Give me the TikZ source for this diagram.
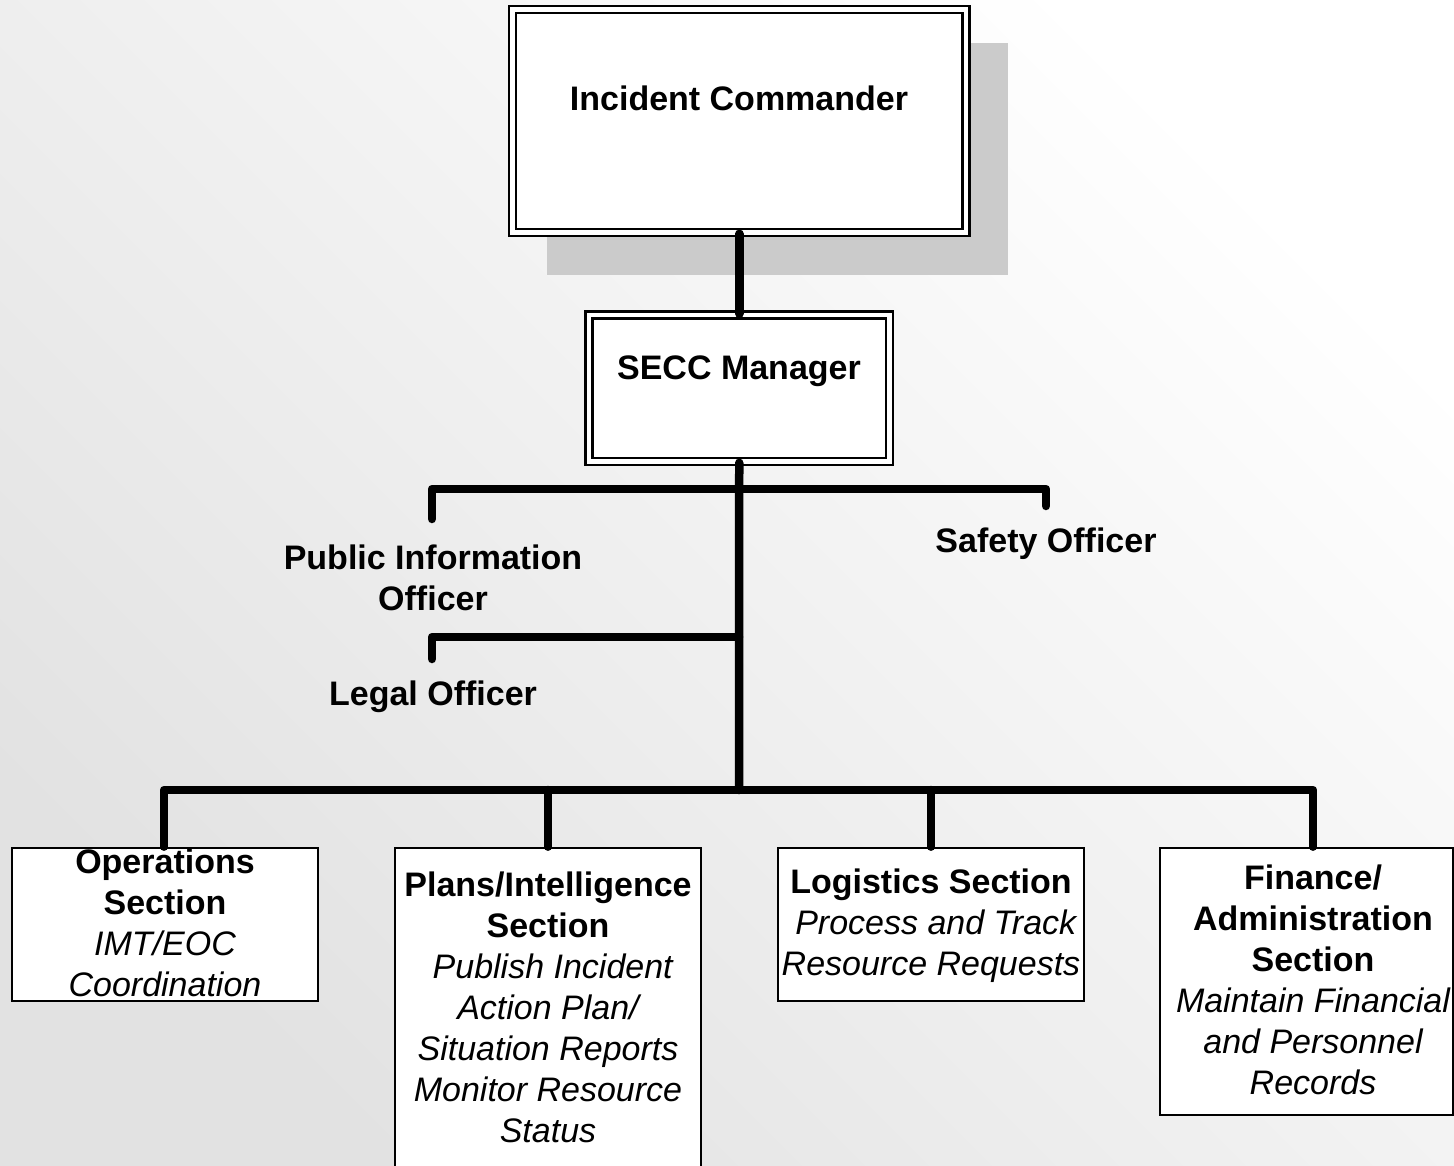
\documentclass[tikz,border=0pt]{standalone}
\usepackage{fontspec}
\setmainfont{Liberation Sans}
\definecolor{bgdark}{RGB}{226,226,226}
\definecolor{shadowgray}{RGB}{203,203,203}
\newcommand{\fstrut}{\rule{0pt}{30pt}}
\newcommand{\subl}[1]{{\mdseries\itshape #1}}
\begin{document}
\begin{tikzpicture}[x=1pt,y=-1pt,
  conn/.style={line width=8.5pt, line cap=round, line join=round},
  dbox/.style={draw, fill=white, line width=2.6pt, double=white, double distance=4.4pt, inner sep=0pt},
  sbox/.style={draw, fill=white, line width=2.6pt, inner sep=0pt},
  lbl/.style={font=\fontsize{34}{41}\selectfont\bfseries, align=center, inner sep=0pt, anchor=north},
]
\useasboundingbox (0,0) rectangle (1454,1166);
\shade[top color=white, bottom color=bgdark, shading angle=-45] (0,0) rectangle (1454,1166);

% shadow of the top box
\fill[shadowgray] (547,43) rectangle (1008,275);

% boxes
\node[dbox, minimum width=453.5pt, minimum height=223pt] (ic) at (739.25,121) {};
\node[dbox, minimum width=300.5pt, minimum height=146.5pt] (secc) at (739.25,388.25) {};
\node[sbox, minimum width=306pt, minimum height=153pt] (ops) at (165,924.5) {};
\node[sbox, minimum width=306pt, minimum height=337pt] (plans) at (548,1016.5) {};
\node[sbox, minimum width=306pt, minimum height=153pt] (logi) at (931,924.5) {};
\node[sbox, minimum width=293pt, minimum height=267pt] (fin) at (1306.5,981.5) {};

% junctions and free ends
\coordinate (j1) at (739,489);
\coordinate (pioEnd) at (432,519);
\coordinate (safEnd) at (1046,506);
\coordinate (j2) at (739,637);
\coordinate (legEnd) at (432,659);
\coordinate (bus) at (739,790);
\coordinate (b1) at (164,790);
\coordinate (b4) at (1313,790);

% connectors
\draw[conn] (ic.south) -- (secc.north);
\draw[conn] (secc.south) -- (bus);
\draw[conn] (pioEnd) -- (pioEnd |- j1) -- (safEnd |- j1) -- (safEnd);
\draw[conn] (legEnd) -- (legEnd |- j2) -- (j2);
\draw[conn] (b1 |- ops.north) -- (b1) -- (b4) -- (b4 |- fin.north);
\draw[conn] (plans.north) -- (plans.north |- bus);
\draw[conn] (logi.north) -- (logi.north |- bus);

% texts
\node[lbl] (icT) at (739,80) {\fstrut Incident Commander};
\node[lbl] (seccT) at (739,349) {\fstrut SECC Manager};
\node[lbl] (safT) at (1046,522) {\fstrut Safety Officer};
\node[lbl] (pioT) at (433,539) {\fstrut Public Information\\Officer};
\node[lbl] (legT) at (433,675) {\fstrut Legal Officer};
\node[lbl] (opsT) at (165,843) {\fstrut Operations\\Section\\\subl{IMT/EOC}\\\subl{Coordination}};
\node[lbl] (plansT) at (548,866) {\fstrut Plans/Intelligence\\Section\\\subl{\ Publish Incident}\\\subl{Action Plan/}\\\subl{Situation Reports}\\\subl{Monitor Resource}\\\subl{Status}};
\node[lbl] (logiT) at (931,863) {\fstrut Logistics Section\\\subl{\ Process and Track}\\\subl{Resource Requests}};
\node[lbl] (finT) at (1313,859) {\fstrut Finance/\\Administration\\Section\\\subl{Maintain Financial}\\\subl{and Personnel}\\\subl{Records}};
\end{tikzpicture}
\end{document}
